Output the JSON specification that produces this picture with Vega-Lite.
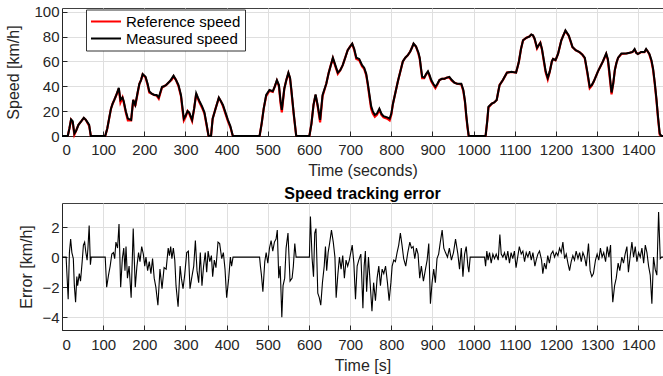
{
  "$schema": "https://vega.github.io/schema/vega-lite/v6.json",
  "background": "white",
  "padding": {"top": 4, "left": 5, "right": 0, "bottom": 0},
  "config": {
    "font": "Liberation Sans",
    "view": {"stroke": "#404040", "strokeWidth": 1},
    "axis": {
      "labelFont": "Liberation Sans", "titleFont": "Liberation Sans",
      "labelFontSize": 15, "titleFontSize": 16, "titleFontWeight": "normal",
      "labelColor": "#262626", "titleColor": "#262626",
      "domainColor": "#262626", "tickColor": "#262626",
      "gridColor": "#dfdfdf", "gridWidth": 1,
      "tickSize": -5, "format": "d"
    },
    "axisX": {"labelPadding": 11, "titlePadding": 5},
    "axisY": {"labelPadding": 8, "titlePadding": 9},
    "legend": {
      "labelFont": "Liberation Sans", "labelFontSize": 15, "labelColor": "#000000"
    }
  },
  "datasets": {
    "speed": [
      {"t":0,"v":0,"s":"Measured speed"},{"t":14,"v":0,"s":"Measured speed"},{"t":18,"v":6,"s":"Measured speed"},{"t":22,"v":13.4,"s":"Measured speed"},{"t":26,"v":12,"s":"Measured speed"},{"t":30,"v":2,"s":"Measured speed"},{"t":34,"v":4,"s":"Measured speed"},{"t":40,"v":9,"s":"Measured speed"},{"t":47,"v":12,"s":"Measured speed"},{"t":53,"v":14.7,"s":"Measured speed"},{"t":58,"v":13,"s":"Measured speed"},{"t":62,"v":11,"s":"Measured speed"},{"t":66,"v":9,"s":"Measured speed"},{"t":70,"v":0,"s":"Measured speed"},{"t":105,"v":0,"s":"Measured speed"},{"t":110,"v":6,"s":"Measured speed"},{"t":115,"v":15,"s":"Measured speed"},{"t":119,"v":22,"s":"Measured speed"},{"t":123,"v":26,"s":"Measured speed"},{"t":127,"v":29,"s":"Measured speed"},{"t":132,"v":33,"s":"Measured speed"},{"t":138,"v":38.8,"s":"Measured speed"},{"t":142,"v":29,"s":"Measured speed"},{"t":147,"v":31,"s":"Measured speed"},{"t":150,"v":28,"s":"Measured speed"},{"t":155,"v":20,"s":"Measured speed"},{"t":160,"v":14,"s":"Measured speed"},{"t":168,"v":13,"s":"Measured speed"},{"t":173,"v":29,"s":"Measured speed"},{"t":178,"v":25,"s":"Measured speed"},{"t":184,"v":35.6,"s":"Measured speed"},{"t":188,"v":42,"s":"Measured speed"},{"t":192,"v":45,"s":"Measured speed"},{"t":196,"v":49.8,"s":"Measured speed"},{"t":203,"v":47.7,"s":"Measured speed"},{"t":208,"v":42,"s":"Measured speed"},{"t":212,"v":36,"s":"Measured speed"},{"t":218,"v":34,"s":"Measured speed"},{"t":224,"v":33,"s":"Measured speed"},{"t":230,"v":33,"s":"Measured speed"},{"t":235,"v":31,"s":"Measured speed"},{"t":243,"v":39.6,"s":"Measured speed"},{"t":248,"v":40,"s":"Measured speed"},{"t":253,"v":41,"s":"Measured speed"},{"t":262,"v":44,"s":"Measured speed"},{"t":266,"v":46,"s":"Measured speed"},{"t":271,"v":48.5,"s":"Measured speed"},{"t":277,"v":45,"s":"Measured speed"},{"t":283,"v":41,"s":"Measured speed"},{"t":289,"v":33,"s":"Measured speed"},{"t":293,"v":22,"s":"Measured speed"},{"t":296,"v":14,"s":"Measured speed"},{"t":300,"v":16,"s":"Measured speed"},{"t":305,"v":20,"s":"Measured speed"},{"t":309,"v":19,"s":"Measured speed"},{"t":316,"v":13,"s":"Measured speed"},{"t":321,"v":22,"s":"Measured speed"},{"t":326,"v":34.3,"s":"Measured speed"},{"t":330,"v":31,"s":"Measured speed"},{"t":334,"v":28,"s":"Measured speed"},{"t":340,"v":24,"s":"Measured speed"},{"t":346,"v":19,"s":"Measured speed"},{"t":351,"v":10,"s":"Measured speed"},{"t":356,"v":0,"s":"Measured speed"},{"t":362,"v":0,"s":"Measured speed"},{"t":366,"v":14,"s":"Measured speed"},{"t":373,"v":22,"s":"Measured speed"},{"t":381,"v":31,"s":"Measured speed"},{"t":386,"v":28,"s":"Measured speed"},{"t":391,"v":25,"s":"Measured speed"},{"t":397,"v":19,"s":"Measured speed"},{"t":403,"v":13,"s":"Measured speed"},{"t":409,"v":8,"s":"Measured speed"},{"t":415,"v":0,"s":"Measured speed"},{"t":480,"v":0,"s":"Measured speed"},{"t":485,"v":10,"s":"Measured speed"},{"t":490,"v":22,"s":"Measured speed"},{"t":496,"v":33,"s":"Measured speed"},{"t":504,"v":37,"s":"Measured speed"},{"t":512,"v":36,"s":"Measured speed"},{"t":517,"v":40,"s":"Measured speed"},{"t":522,"v":45,"s":"Measured speed"},{"t":527,"v":41,"s":"Measured speed"},{"t":531,"v":28,"s":"Measured speed"},{"t":534,"v":21,"s":"Measured speed"},{"t":540,"v":38,"s":"Measured speed"},{"t":545,"v":45,"s":"Measured speed"},{"t":550,"v":51,"s":"Measured speed"},{"t":554,"v":47,"s":"Measured speed"},{"t":557,"v":38,"s":"Measured speed"},{"t":563,"v":18,"s":"Measured speed"},{"t":569,"v":0,"s":"Measured speed"},{"t":601,"v":0,"s":"Measured speed"},{"t":606,"v":10,"s":"Measured speed"},{"t":611,"v":25,"s":"Measured speed"},{"t":616,"v":33.5,"s":"Measured speed"},{"t":621,"v":25,"s":"Measured speed"},{"t":627,"v":13,"s":"Measured speed"},{"t":633,"v":33,"s":"Measured speed"},{"t":642,"v":42,"s":"Measured speed"},{"t":648,"v":51,"s":"Measured speed"},{"t":653,"v":57,"s":"Measured speed"},{"t":658,"v":63,"s":"Measured speed"},{"t":664,"v":57,"s":"Measured speed"},{"t":670,"v":51,"s":"Measured speed"},{"t":676,"v":53,"s":"Measured speed"},{"t":682,"v":57,"s":"Measured speed"},{"t":688,"v":63,"s":"Measured speed"},{"t":694,"v":69,"s":"Measured speed"},{"t":700,"v":72,"s":"Measured speed"},{"t":705,"v":74.4,"s":"Measured speed"},{"t":710,"v":70,"s":"Measured speed"},{"t":715,"v":63,"s":"Measured speed"},{"t":722,"v":62,"s":"Measured speed"},{"t":729,"v":57,"s":"Measured speed"},{"t":734,"v":55,"s":"Measured speed"},{"t":739,"v":50,"s":"Measured speed"},{"t":743,"v":42,"s":"Measured speed"},{"t":747,"v":33,"s":"Measured speed"},{"t":751,"v":24,"s":"Measured speed"},{"t":755,"v":20,"s":"Measured speed"},{"t":760,"v":17,"s":"Measured speed"},{"t":765,"v":18,"s":"Measured speed"},{"t":771,"v":22,"s":"Measured speed"},{"t":776,"v":18,"s":"Measured speed"},{"t":781,"v":16,"s":"Measured speed"},{"t":790,"v":15,"s":"Measured speed"},{"t":796,"v":14,"s":"Measured speed"},{"t":800,"v":18,"s":"Measured speed"},{"t":804,"v":26,"s":"Measured speed"},{"t":810,"v":35,"s":"Measured speed"},{"t":816,"v":44,"s":"Measured speed"},{"t":822,"v":52,"s":"Measured speed"},{"t":828,"v":60,"s":"Measured speed"},{"t":834,"v":63,"s":"Measured speed"},{"t":840,"v":65,"s":"Measured speed"},{"t":846,"v":68,"s":"Measured speed"},{"t":850,"v":71,"s":"Measured speed"},{"t":854,"v":74.4,"s":"Measured speed"},{"t":860,"v":72,"s":"Measured speed"},{"t":866,"v":67,"s":"Measured speed"},{"t":869,"v":63,"s":"Measured speed"},{"t":872,"v":55,"s":"Measured speed"},{"t":875,"v":47.6,"s":"Measured speed"},{"t":880,"v":47,"s":"Measured speed"},{"t":885,"v":50,"s":"Measured speed"},{"t":889,"v":52,"s":"Measured speed"},{"t":893,"v":49,"s":"Measured speed"},{"t":897,"v":45,"s":"Measured speed"},{"t":902,"v":42,"s":"Measured speed"},{"t":907,"v":39.6,"s":"Measured speed"},{"t":912,"v":42,"s":"Measured speed"},{"t":917,"v":45,"s":"Measured speed"},{"t":923,"v":46,"s":"Measured speed"},{"t":929,"v":46,"s":"Measured speed"},{"t":935,"v":47,"s":"Measured speed"},{"t":941,"v":47.6,"s":"Measured speed"},{"t":947,"v":45,"s":"Measured speed"},{"t":953,"v":43,"s":"Measured speed"},{"t":960,"v":42,"s":"Measured speed"},{"t":970,"v":42,"s":"Measured speed"},{"t":975,"v":37,"s":"Measured speed"},{"t":979,"v":28,"s":"Measured speed"},{"t":982,"v":17,"s":"Measured speed"},{"t":985,"v":8,"s":"Measured speed"},{"t":988,"v":0,"s":"Measured speed"},{"t":1029,"v":0,"s":"Measured speed"},{"t":1033,"v":12,"s":"Measured speed"},{"t":1036,"v":23.6,"s":"Measured speed"},{"t":1044,"v":26,"s":"Measured speed"},{"t":1050,"v":27,"s":"Measured speed"},{"t":1056,"v":29,"s":"Measured speed"},{"t":1060,"v":36,"s":"Measured speed"},{"t":1063,"v":41,"s":"Measured speed"},{"t":1071,"v":45,"s":"Measured speed"},{"t":1076,"v":48,"s":"Measured speed"},{"t":1081,"v":51,"s":"Measured speed"},{"t":1092,"v":51.6,"s":"Measured speed"},{"t":1103,"v":51,"s":"Measured speed"},{"t":1107,"v":56,"s":"Measured speed"},{"t":1110,"v":60,"s":"Measured speed"},{"t":1115,"v":70,"s":"Measured speed"},{"t":1120,"v":77,"s":"Measured speed"},{"t":1128,"v":79,"s":"Measured speed"},{"t":1135,"v":80,"s":"Measured speed"},{"t":1140,"v":81.7,"s":"Measured speed"},{"t":1144,"v":81,"s":"Measured speed"},{"t":1148,"v":78.5,"s":"Measured speed"},{"t":1154,"v":71,"s":"Measured speed"},{"t":1158,"v":73,"s":"Measured speed"},{"t":1162,"v":75,"s":"Measured speed"},{"t":1166,"v":70,"s":"Measured speed"},{"t":1170,"v":62,"s":"Measured speed"},{"t":1175,"v":52,"s":"Measured speed"},{"t":1180,"v":46.8,"s":"Measured speed"},{"t":1185,"v":52,"s":"Measured speed"},{"t":1190,"v":60,"s":"Measured speed"},{"t":1193,"v":62,"s":"Measured speed"},{"t":1199,"v":61,"s":"Measured speed"},{"t":1205,"v":66,"s":"Measured speed"},{"t":1213,"v":77,"s":"Measured speed"},{"t":1218,"v":81,"s":"Measured speed"},{"t":1223,"v":85,"s":"Measured speed"},{"t":1231,"v":81,"s":"Measured speed"},{"t":1236,"v":76,"s":"Measured speed"},{"t":1240,"v":71.7,"s":"Measured speed"},{"t":1248,"v":69,"s":"Measured speed"},{"t":1257,"v":67.6,"s":"Measured speed"},{"t":1264,"v":65.5,"s":"Measured speed"},{"t":1270,"v":63,"s":"Measured speed"},{"t":1276,"v":52,"s":"Measured speed"},{"t":1282,"v":39.6,"s":"Measured speed"},{"t":1287,"v":41,"s":"Measured speed"},{"t":1292,"v":44,"s":"Measured speed"},{"t":1302,"v":52,"s":"Measured speed"},{"t":1308,"v":56,"s":"Measured speed"},{"t":1314,"v":60,"s":"Measured speed"},{"t":1322,"v":66.4,"s":"Measured speed"},{"t":1326,"v":62,"s":"Measured speed"},{"t":1329,"v":54,"s":"Measured speed"},{"t":1335,"v":35,"s":"Measured speed"},{"t":1339,"v":42,"s":"Measured speed"},{"t":1343,"v":53,"s":"Measured speed"},{"t":1347,"v":59,"s":"Measured speed"},{"t":1351,"v":63,"s":"Measured speed"},{"t":1359,"v":66.4,"s":"Measured speed"},{"t":1371,"v":66.4,"s":"Measured speed"},{"t":1379,"v":67,"s":"Measured speed"},{"t":1386,"v":67.6,"s":"Measured speed"},{"t":1391,"v":70,"s":"Measured speed"},{"t":1395,"v":67,"s":"Measured speed"},{"t":1399,"v":66,"s":"Measured speed"},{"t":1407,"v":67.6,"s":"Measured speed"},{"t":1415,"v":67.6,"s":"Measured speed"},{"t":1419,"v":70,"s":"Measured speed"},{"t":1423,"v":68,"s":"Measured speed"},{"t":1427,"v":66,"s":"Measured speed"},{"t":1432,"v":61,"s":"Measured speed"},{"t":1436,"v":54,"s":"Measured speed"},{"t":1440,"v":43,"s":"Measured speed"},{"t":1444,"v":30,"s":"Measured speed"},{"t":1448,"v":15,"s":"Measured speed"},{"t":1452,"v":2,"s":"Measured speed"},{"t":1456,"v":0,"s":"Measured speed"},{"t":1460,"v":0,"s":"Measured speed"},

      {"t":0,"v":0,"s":"Reference speed"},{"t":14,"v":0,"s":"Reference speed"},{"t":18,"v":6,"s":"Reference speed"},{"t":22,"v":13,"s":"Reference speed"},{"t":26,"v":11,"s":"Reference speed"},{"t":30,"v":1,"s":"Reference speed"},{"t":34,"v":4,"s":"Reference speed"},{"t":40,"v":9,"s":"Reference speed"},{"t":47,"v":12,"s":"Reference speed"},{"t":53,"v":14.5,"s":"Reference speed"},{"t":58,"v":13,"s":"Reference speed"},{"t":62,"v":10.5,"s":"Reference speed"},{"t":66,"v":8,"s":"Reference speed"},{"t":70,"v":0,"s":"Reference speed"},{"t":105,"v":0,"s":"Reference speed"},{"t":110,"v":6,"s":"Reference speed"},{"t":115,"v":15,"s":"Reference speed"},{"t":119,"v":22,"s":"Reference speed"},{"t":123,"v":26,"s":"Reference speed"},{"t":127,"v":29,"s":"Reference speed"},{"t":132,"v":33,"s":"Reference speed"},{"t":138,"v":38,"s":"Reference speed"},{"t":142,"v":27,"s":"Reference speed"},{"t":147,"v":31,"s":"Reference speed"},{"t":150,"v":27,"s":"Reference speed"},{"t":155,"v":19,"s":"Reference speed"},{"t":160,"v":12.5,"s":"Reference speed"},{"t":168,"v":12.5,"s":"Reference speed"},{"t":173,"v":29,"s":"Reference speed"},{"t":178,"v":24,"s":"Reference speed"},{"t":184,"v":35,"s":"Reference speed"},{"t":188,"v":42,"s":"Reference speed"},{"t":192,"v":45,"s":"Reference speed"},{"t":196,"v":49.5,"s":"Reference speed"},{"t":203,"v":47,"s":"Reference speed"},{"t":208,"v":41,"s":"Reference speed"},{"t":212,"v":35,"s":"Reference speed"},{"t":218,"v":34,"s":"Reference speed"},{"t":224,"v":33,"s":"Reference speed"},{"t":230,"v":32.5,"s":"Reference speed"},{"t":235,"v":30,"s":"Reference speed"},{"t":243,"v":39,"s":"Reference speed"},{"t":248,"v":40,"s":"Reference speed"},{"t":253,"v":41,"s":"Reference speed"},{"t":262,"v":44,"s":"Reference speed"},{"t":266,"v":45,"s":"Reference speed"},{"t":271,"v":48,"s":"Reference speed"},{"t":277,"v":45,"s":"Reference speed"},{"t":283,"v":40,"s":"Reference speed"},{"t":289,"v":32,"s":"Reference speed"},{"t":293,"v":20,"s":"Reference speed"},{"t":296,"v":12.5,"s":"Reference speed"},{"t":300,"v":15,"s":"Reference speed"},{"t":305,"v":20,"s":"Reference speed"},{"t":309,"v":18,"s":"Reference speed"},{"t":316,"v":12,"s":"Reference speed"},{"t":321,"v":22,"s":"Reference speed"},{"t":326,"v":34,"s":"Reference speed"},{"t":330,"v":30,"s":"Reference speed"},{"t":334,"v":27,"s":"Reference speed"},{"t":340,"v":23,"s":"Reference speed"},{"t":346,"v":18,"s":"Reference speed"},{"t":351,"v":9,"s":"Reference speed"},{"t":356,"v":0,"s":"Reference speed"},{"t":362,"v":0,"s":"Reference speed"},{"t":366,"v":14,"s":"Reference speed"},{"t":373,"v":22,"s":"Reference speed"},{"t":381,"v":30.5,"s":"Reference speed"},{"t":386,"v":28,"s":"Reference speed"},{"t":391,"v":24,"s":"Reference speed"},{"t":397,"v":18,"s":"Reference speed"},{"t":403,"v":12,"s":"Reference speed"},{"t":409,"v":7,"s":"Reference speed"},{"t":415,"v":0,"s":"Reference speed"},{"t":480,"v":0,"s":"Reference speed"},{"t":485,"v":10,"s":"Reference speed"},{"t":490,"v":22,"s":"Reference speed"},{"t":496,"v":32,"s":"Reference speed"},{"t":504,"v":36.5,"s":"Reference speed"},{"t":512,"v":35.5,"s":"Reference speed"},{"t":517,"v":40,"s":"Reference speed"},{"t":522,"v":44.5,"s":"Reference speed"},{"t":527,"v":40,"s":"Reference speed"},{"t":531,"v":26,"s":"Reference speed"},{"t":534,"v":19,"s":"Reference speed"},{"t":540,"v":38,"s":"Reference speed"},{"t":545,"v":45,"s":"Reference speed"},{"t":550,"v":50.5,"s":"Reference speed"},{"t":554,"v":46,"s":"Reference speed"},{"t":557,"v":37,"s":"Reference speed"},{"t":563,"v":17,"s":"Reference speed"},{"t":569,"v":0,"s":"Reference speed"},{"t":601,"v":0,"s":"Reference speed"},{"t":606,"v":10,"s":"Reference speed"},{"t":611,"v":25,"s":"Reference speed"},{"t":616,"v":33,"s":"Reference speed"},{"t":621,"v":24,"s":"Reference speed"},{"t":627,"v":11,"s":"Reference speed"},{"t":633,"v":32,"s":"Reference speed"},{"t":642,"v":42,"s":"Reference speed"},{"t":648,"v":51,"s":"Reference speed"},{"t":653,"v":57,"s":"Reference speed"},{"t":658,"v":62.5,"s":"Reference speed"},{"t":664,"v":56,"s":"Reference speed"},{"t":670,"v":50,"s":"Reference speed"},{"t":676,"v":53,"s":"Reference speed"},{"t":682,"v":57,"s":"Reference speed"},{"t":688,"v":63,"s":"Reference speed"},{"t":694,"v":69,"s":"Reference speed"},{"t":700,"v":72,"s":"Reference speed"},{"t":705,"v":74,"s":"Reference speed"},{"t":710,"v":69,"s":"Reference speed"},{"t":715,"v":62,"s":"Reference speed"},{"t":722,"v":61,"s":"Reference speed"},{"t":729,"v":56,"s":"Reference speed"},{"t":734,"v":54,"s":"Reference speed"},{"t":739,"v":49,"s":"Reference speed"},{"t":743,"v":41,"s":"Reference speed"},{"t":747,"v":31,"s":"Reference speed"},{"t":751,"v":22,"s":"Reference speed"},{"t":755,"v":18,"s":"Reference speed"},{"t":760,"v":15.5,"s":"Reference speed"},{"t":765,"v":17,"s":"Reference speed"},{"t":771,"v":21,"s":"Reference speed"},{"t":776,"v":17,"s":"Reference speed"},{"t":781,"v":15,"s":"Reference speed"},{"t":790,"v":14,"s":"Reference speed"},{"t":796,"v":12.5,"s":"Reference speed"},{"t":800,"v":17,"s":"Reference speed"},{"t":804,"v":26,"s":"Reference speed"},{"t":810,"v":35,"s":"Reference speed"},{"t":816,"v":44,"s":"Reference speed"},{"t":822,"v":52,"s":"Reference speed"},{"t":828,"v":60,"s":"Reference speed"},{"t":834,"v":63,"s":"Reference speed"},{"t":840,"v":65,"s":"Reference speed"},{"t":846,"v":68,"s":"Reference speed"},{"t":850,"v":71,"s":"Reference speed"},{"t":854,"v":74,"s":"Reference speed"},{"t":860,"v":72,"s":"Reference speed"},{"t":866,"v":66,"s":"Reference speed"},{"t":869,"v":62,"s":"Reference speed"},{"t":872,"v":54,"s":"Reference speed"},{"t":875,"v":46.5,"s":"Reference speed"},{"t":880,"v":46.5,"s":"Reference speed"},{"t":885,"v":50,"s":"Reference speed"},{"t":889,"v":51.5,"s":"Reference speed"},{"t":893,"v":48,"s":"Reference speed"},{"t":897,"v":44,"s":"Reference speed"},{"t":902,"v":41,"s":"Reference speed"},{"t":907,"v":38.5,"s":"Reference speed"},{"t":912,"v":41.5,"s":"Reference speed"},{"t":917,"v":45,"s":"Reference speed"},{"t":923,"v":46,"s":"Reference speed"},{"t":929,"v":46,"s":"Reference speed"},{"t":935,"v":47,"s":"Reference speed"},{"t":941,"v":47,"s":"Reference speed"},{"t":947,"v":44.5,"s":"Reference speed"},{"t":953,"v":43,"s":"Reference speed"},{"t":960,"v":42,"s":"Reference speed"},{"t":970,"v":41.5,"s":"Reference speed"},{"t":975,"v":36,"s":"Reference speed"},{"t":979,"v":27,"s":"Reference speed"},{"t":982,"v":16,"s":"Reference speed"},{"t":985,"v":7,"s":"Reference speed"},{"t":988,"v":0,"s":"Reference speed"},{"t":1029,"v":0,"s":"Reference speed"},{"t":1033,"v":12,"s":"Reference speed"},{"t":1036,"v":23,"s":"Reference speed"},{"t":1044,"v":26,"s":"Reference speed"},{"t":1050,"v":27,"s":"Reference speed"},{"t":1056,"v":29,"s":"Reference speed"},{"t":1060,"v":36,"s":"Reference speed"},{"t":1063,"v":41,"s":"Reference speed"},{"t":1071,"v":45,"s":"Reference speed"},{"t":1076,"v":48,"s":"Reference speed"},{"t":1081,"v":51,"s":"Reference speed"},{"t":1092,"v":51.5,"s":"Reference speed"},{"t":1103,"v":51,"s":"Reference speed"},{"t":1107,"v":56,"s":"Reference speed"},{"t":1110,"v":60,"s":"Reference speed"},{"t":1115,"v":70,"s":"Reference speed"},{"t":1120,"v":77,"s":"Reference speed"},{"t":1128,"v":79,"s":"Reference speed"},{"t":1135,"v":80,"s":"Reference speed"},{"t":1140,"v":81.5,"s":"Reference speed"},{"t":1144,"v":81,"s":"Reference speed"},{"t":1148,"v":78,"s":"Reference speed"},{"t":1154,"v":70.5,"s":"Reference speed"},{"t":1158,"v":73,"s":"Reference speed"},{"t":1162,"v":75,"s":"Reference speed"},{"t":1166,"v":69.5,"s":"Reference speed"},{"t":1170,"v":61,"s":"Reference speed"},{"t":1175,"v":51,"s":"Reference speed"},{"t":1180,"v":45.5,"s":"Reference speed"},{"t":1185,"v":52,"s":"Reference speed"},{"t":1190,"v":60,"s":"Reference speed"},{"t":1193,"v":62,"s":"Reference speed"},{"t":1199,"v":61,"s":"Reference speed"},{"t":1205,"v":66,"s":"Reference speed"},{"t":1213,"v":77,"s":"Reference speed"},{"t":1218,"v":81,"s":"Reference speed"},{"t":1223,"v":84.5,"s":"Reference speed"},{"t":1231,"v":80.5,"s":"Reference speed"},{"t":1236,"v":75.5,"s":"Reference speed"},{"t":1240,"v":71.5,"s":"Reference speed"},{"t":1248,"v":69,"s":"Reference speed"},{"t":1257,"v":67.5,"s":"Reference speed"},{"t":1264,"v":65.5,"s":"Reference speed"},{"t":1270,"v":62.5,"s":"Reference speed"},{"t":1276,"v":51,"s":"Reference speed"},{"t":1282,"v":38.5,"s":"Reference speed"},{"t":1287,"v":40.5,"s":"Reference speed"},{"t":1292,"v":44,"s":"Reference speed"},{"t":1302,"v":52,"s":"Reference speed"},{"t":1308,"v":56,"s":"Reference speed"},{"t":1314,"v":60,"s":"Reference speed"},{"t":1322,"v":66,"s":"Reference speed"},{"t":1326,"v":61,"s":"Reference speed"},{"t":1329,"v":52,"s":"Reference speed"},{"t":1335,"v":33.5,"s":"Reference speed"},{"t":1339,"v":42,"s":"Reference speed"},{"t":1343,"v":53,"s":"Reference speed"},{"t":1347,"v":59,"s":"Reference speed"},{"t":1351,"v":63,"s":"Reference speed"},{"t":1359,"v":66,"s":"Reference speed"},{"t":1371,"v":66.4,"s":"Reference speed"},{"t":1379,"v":67,"s":"Reference speed"},{"t":1386,"v":67.5,"s":"Reference speed"},{"t":1391,"v":69.5,"s":"Reference speed"},{"t":1395,"v":67,"s":"Reference speed"},{"t":1399,"v":66,"s":"Reference speed"},{"t":1407,"v":67.5,"s":"Reference speed"},{"t":1415,"v":67.5,"s":"Reference speed"},{"t":1419,"v":69.5,"s":"Reference speed"},{"t":1423,"v":68,"s":"Reference speed"},{"t":1427,"v":65.5,"s":"Reference speed"},{"t":1432,"v":60,"s":"Reference speed"},{"t":1436,"v":53,"s":"Reference speed"},{"t":1440,"v":42,"s":"Reference speed"},{"t":1444,"v":29,"s":"Reference speed"},{"t":1448,"v":14,"s":"Reference speed"},{"t":1452,"v":1,"s":"Reference speed"},{"t":1456,"v":0,"s":"Reference speed"},{"t":1460,"v":0,"s":"Reference speed"}
    ],
    "err": [
      {"t":0,"e":0},{"t":10,"e":0},{"t":15,"e":-2.8},{"t":18,"e":0.3},{"t":21,"e":1.2},{"t":24,"e":0.3},{"t":27.5,"e":-0.1},{"t":30,"e":-1.9},{"t":33,"e":-3.0},{"t":36,"e":-1.3},{"t":38,"e":-1.9},{"t":42,"e":-1.1},{"t":45,"e":-1.6},{"t":49,"e":-0.3},{"t":52,"e":0.8},{"t":55,"e":1.0},{"t":58,"e":0.3},{"t":61,"e":-0.2},{"t":63,"e":0.6},{"t":66,"e":2.1},{"t":69,"e":-0.5},{"t":71,"e":0},{"t":105,"e":0},
      {"t":108.5,"e":-2.0},{"t":113,"e":-1.2},{"t":117,"e":-0.6},{"t":121,"e":0.2},{"t":125,"e":0.3},{"t":128,"e":-0.1},{"t":131,"e":1.0},{"t":135,"e":0.6},{"t":138.5,"e":2.2},{"t":142.5,"e":-2.0},{"t":146.6,"e":-0.1},{"t":150,"e":0.6},{"t":153,"e":-0.9},{"t":155.5,"e":0.7},{"t":159,"e":-1.4},{"t":163,"e":-0.6},{"t":168,"e":-2.7},{"t":173,"e":1.9},{"t":178,"e":-2.0},{"t":182,"e":-0.6},{"t":186,"e":0.3},{"t":189.5,"e":-0.3},{"t":193.6,"e":0.7},{"t":197.6,"e":0.2},{"t":201,"e":-0.6},{"t":204,"e":0},{"t":208,"e":-0.9},{"t":212,"e":-0.3},{"t":216,"e":-1.1},{"t":220,"e":-0.1},{"t":224,"e":-1.4},{"t":228,"e":-2.0},{"t":233,"e":-3.2},{"t":238,"e":-0.8},{"t":243,"e":-2.1},{"t":248,"e":-0.7},{"t":253,"e":-0.8},{"t":258,"e":0.6},{"t":261,"e":0.1},{"t":264,"e":0.7},{"t":267,"e":-0.1},{"t":270.5,"e":0.6},{"t":274,"e":-0.2},{"t":277,"e":-1.9},{"t":282,"e":-3.3},{"t":287,"e":-0.6},{"t":290,"e":-1.4},{"t":294,"e":-2.1},{"t":298,"e":-1.2},{"t":303,"e":0.3},{"t":307,"e":0.4},{"t":311,"e":-2.1},{"t":315,"e":-1.4},{"t":320,"e":-0.6},{"t":324,"e":1.1},{"t":328,"e":-0.9},{"t":332,"e":-1.7},{"t":336,"e":0.3},{"t":340,"e":-1.9},{"t":344,"e":-0.6},{"t":348,"e":0.3},{"t":351.5,"e":-1.0},{"t":355,"e":0.4},{"t":359,"e":-0.3},{"t":363,"e":0.1},{"t":366,"e":-1.3},{"t":370,"e":-0.2},{"t":374,"e":-0.7},{"t":379,"e":1.0},{"t":383,"e":0.9},{"t":388,"e":-0.1},{"t":392,"e":0.3},{"t":396,"e":-0.8},{"t":400,"e":-2.7},{"t":405,"e":-1.4},{"t":409,"e":0},{"t":412,"e":-0.6},{"t":415.5,"e":0},{"t":480,"e":0},
      {"t":482,"e":-0.6},{"t":484.5,"e":-1.2},{"t":488,"e":-2.3},{"t":492.6,"e":-0.3},{"t":496,"e":0.3},{"t":500,"e":-0.4},{"t":504,"e":0.6},{"t":508,"e":1.1},{"t":512,"e":0.4},{"t":516,"e":1.0},{"t":520,"e":1.2},{"t":523,"e":1.8},{"t":526.6,"e":-1.4},{"t":530,"e":-0.6},{"t":534,"e":-4.0},{"t":537,"e":-1.9},{"t":541,"e":-1.4},{"t":544.4,"e":0.6},{"t":549,"e":1.6},{"t":554,"e":-1.6},{"t":559,"e":-1.4},{"t":562,"e":-0.6},{"t":565.5,"e":0.9},{"t":568.7,"e":0},{"t":601,"e":0},
      {"t":603.5,"e":2.7},{"t":607.6,"e":-0.1},{"t":611,"e":-1.3},{"t":614,"e":1.6},{"t":617,"e":1.9},{"t":621.4,"e":-2.4},{"t":625,"e":-2.7},{"t":628.6,"e":-3.2},{"t":632.7,"e":-1.7},{"t":637,"e":-0.6},{"t":640,"e":0.7},{"t":643,"e":-0.9},{"t":646.5,"e":0.3},{"t":650,"e":0.9},{"t":654.6,"e":1.8},{"t":659,"e":1.0},{"t":663,"e":0},{"t":666,"e":-2.7},{"t":670,"e":-1.2},{"t":674,"e":0},{"t":678,"e":-0.8},{"t":682,"e":0.1},{"t":686,"e":-1.4},{"t":690,"e":-0.2},{"t":694,"e":-0.6},{"t":698,"e":-0.2},{"t":705,"e":0.8},{"t":709,"e":-0.4},{"t":713,"e":-2.8},{"t":717,"e":-0.6},{"t":721,"e":-0.2},{"t":726,"e":0.2},{"t":731,"e":-3.4},{"t":734,"e":-0.6},{"t":737,"e":0.4},{"t":740,"e":-2.3},{"t":744.5,"e":0},{"t":748.5,"e":-1.7},{"t":753,"e":-3.6},{"t":757,"e":-1.7},{"t":761.5,"e":-2.9},{"t":765.5,"e":-1.4},{"t":769.6,"e":-0.6},{"t":773.6,"e":-1.9},{"t":777.7,"e":-0.8},{"t":781.7,"e":-1.1},{"t":786,"e":-0.6},{"t":790.6,"e":-1.7},{"t":794.7,"e":-2.9},{"t":799,"e":-1.7},{"t":802,"e":-0.6},{"t":806,"e":-0.2},{"t":810,"e":-0.3},{"t":814,"e":0.3},{"t":818,"e":0.8},{"t":822,"e":1.6},{"t":826,"e":0.8},{"t":830,"e":-0.1},{"t":835,"e":-0.6},{"t":840,"e":0.3},{"t":845,"e":1.0},{"t":849,"e":0.6},{"t":853,"e":0.7},{"t":857,"e":-0.1},{"t":861,"e":0.6},{"t":865,"e":0.2},{"t":869,"e":-1.4},{"t":873,"e":-0.6},{"t":878,"e":-1.6},{"t":883,"e":-0.8},{"t":887,"e":-0.2},{"t":891,"e":0.9},{"t":895,"e":-3.1},{"t":899,"e":-1.7},{"t":903,"e":-0.8},{"t":907,"e":-1.7},{"t":911,"e":-0.1},{"t":915,"e":0.2},{"t":919,"e":1.0},{"t":923.5,"e":1.8},{"t":927.5,"e":0.6},{"t":931.6,"e":0.3},{"t":936.5,"e":0},{"t":941,"e":0.6},{"t":946,"e":-0.2},{"t":951,"e":0.3},{"t":956,"e":1.2},{"t":961.7,"e":0.2},{"t":965.7,"e":-0.8},{"t":970,"e":0.6},{"t":974,"e":-1.3},{"t":978,"e":0.2},{"t":982,"e":0.7},{"t":986,"e":-0.6},{"t":988.4,"e":-1.0},{"t":991.6,"e":0},{"t":1026.5,"e":0},
      {"t":1029,"e":-0.6},{"t":1032,"e":0.4},{"t":1035,"e":-0.2},{"t":1038.6,"e":0.3},{"t":1042.6,"e":-0.4},{"t":1046.7,"e":0.2},{"t":1050.7,"e":-0.1},{"t":1054.8,"e":0.2},{"t":1059.7,"e":-0.2},{"t":1063.7,"e":1.5},{"t":1067,"e":0.2},{"t":1071,"e":0},{"t":1075,"e":0.3},{"t":1079,"e":-0.2},{"t":1083,"e":0.4},{"t":1087,"e":-0.4},{"t":1091,"e":0.3},{"t":1095,"e":-0.1},{"t":1099,"e":0.4},{"t":1103,"e":-0.7},{"t":1107,"e":0},{"t":1111,"e":0.7},{"t":1115.6,"e":0.2},{"t":1119.6,"e":0.4},{"t":1123.7,"e":-0.3},{"t":1127.7,"e":0.3},{"t":1131.8,"e":0},{"t":1136,"e":0.4},{"t":1140,"e":-0.2},{"t":1144,"e":0.3},{"t":1148.8,"e":-0.6},{"t":1152,"e":-0.2},{"t":1156,"e":0.2},{"t":1160,"e":0.4},{"t":1165,"e":-0.2},{"t":1168,"e":-1.1},{"t":1172,"e":-0.4},{"t":1176,"e":-0.8},{"t":1180,"e":0.1},{"t":1184,"e":-0.4},{"t":1188,"e":0.2},{"t":1192.5,"e":0.4},{"t":1196.5,"e":0},{"t":1200.6,"e":0.3},{"t":1204.7,"e":0.1},{"t":1208.7,"e":0.6},{"t":1212.8,"e":0.3},{"t":1216.8,"e":1.0},{"t":1221,"e":-0.1},{"t":1225,"e":0.2},{"t":1229,"e":-0.4},{"t":1233,"e":-0.9},{"t":1237,"e":-0.3},{"t":1241,"e":0.1},{"t":1245,"e":-0.2},{"t":1249,"e":0.4},{"t":1253.5,"e":-0.1},{"t":1257.5,"e":0.3},{"t":1261.4,"e":-0.3},{"t":1265.4,"e":0.3},{"t":1269.5,"e":0},{"t":1273.5,"e":-0.6},{"t":1279,"e":0.9},{"t":1283,"e":-0.9},{"t":1287,"e":-1.3},{"t":1291,"e":-1.1},{"t":1296,"e":-0.2},{"t":1300,"e":0.2},{"t":1304,"e":-0.2},{"t":1308,"e":0.6},{"t":1312,"e":0},{"t":1316,"e":0.3},{"t":1320.5,"e":-0.3},{"t":1324.5,"e":0.7},{"t":1328.6,"e":0},{"t":1332.6,"e":0.8},{"t":1335,"e":-1.4},{"t":1338,"e":-3.0},{"t":1342.4,"e":-1.9},{"t":1346.4,"e":-1.4},{"t":1351,"e":-0.4},{"t":1355,"e":-0.9},{"t":1360,"e":0},{"t":1364,"e":-0.4},{"t":1368,"e":0.2},{"t":1372.3,"e":0.7},{"t":1376,"e":-1.0},{"t":1380.4,"e":0.1},{"t":1384.5,"e":1.0},{"t":1388.5,"e":0},{"t":1392.6,"e":0.7},{"t":1396.6,"e":-0.3},{"t":1400.7,"e":0.3},{"t":1404.7,"e":0},{"t":1408.8,"e":0.6},{"t":1413,"e":-0.4},{"t":1417,"e":0.8},{"t":1421,"e":0.3},{"t":1425,"e":-0.6},{"t":1429,"e":-1.2},{"t":1433,"e":-3.1},{"t":1437,"e":0},{"t":1441,"e":-0.8},{"t":1445,"e":-1.2},{"t":1449.3,"e":3.0},{"t":1453.3,"e":-0.1},{"t":1456.5,"e":0},{"t":1460,"e":0}
    ]
  },
  "vconcat": [
    {
      "width": 601,
      "height": 128,
      "data": {"name": "speed"},
      "encoding": {
        "x": {"field": "t", "type": "quantitative",
          "scale": {"domain": [0, 1460], "nice": false, "zero": false},
          "axis": {"values": [0,100,200,300,400,500,600,700,800,900,1000,1100,1200,1300,1400], "title": "Time (seconds)"}},
        "y": {"field": "v", "type": "quantitative",
          "scale": {"domain": [0, 103], "nice": false},
          "axis": {"values": [0,20,40,60,80,100], "title": "Speed [km/h]", "titlePadding": 12}},
        "color": {"field": "s", "type": "nominal",
          "scale": {"domain": ["Reference speed", "Measured speed"], "range": ["#ff0000", "#000000"]},
          "legend": {"title": null, "orient": "none", "legendX": 24, "legendY": 1.5,
            "symbolType": "stroke", "symbolSize": 900, "symbolStrokeWidth": 2, "clipHeight": 16,
            "strokeColor": "#333333", "fillColor": "white", "padding": 4, "rowPadding": 1, "labelOffset": 4}}
      },
      "layer": [
        {"transform": [{"filter": "datum.s === 'Reference speed'"}],
         "mark": {"type": "line", "strokeWidth": 2.2}},
        {"transform": [{"filter": "datum.s === 'Measured speed'"}],
         "mark": {"type": "line", "strokeWidth": 2}}
      ]
    },
    {
      "width": 601,
      "height": 127,
      "data": {"name": "err"},
      "title": {"text": "Speed tracking error", "fontSize": 16, "fontWeight": "bold", "font": "Liberation Sans", "color": "#000000", "offset": 1, "anchor": "middle"},
      "mark": {"type": "line", "color": "#000000", "strokeWidth": 1.1},
      "encoding": {
        "x": {"field": "t", "type": "quantitative",
          "scale": {"domain": [0, 1460], "nice": false, "zero": false},
          "axis": {"values": [0,100,200,300,400,500,600,700,800,900,1000,1100,1200,1300,1400], "title": "Time [s]", "labelPadding": 12}},
        "y": {"field": "e", "type": "quantitative",
          "scale": {"domain": [-4.85, 3.6], "nice": false, "zero": false},
          "axis": {"values": [-4,-2,0,2], "title": "Error [km/h]", "titlePadding": 7}}
      }
    }
  ],
  "bounds": "flush",
  "spacing": 67
}
